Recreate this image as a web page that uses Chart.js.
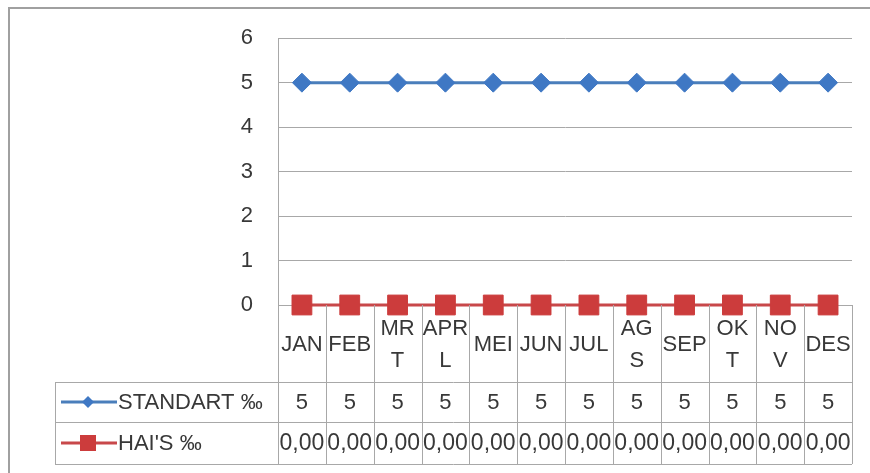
<!DOCTYPE html>
<html>
<head>
<meta charset="utf-8">
<script src="https://cdn.jsdelivr.net/npm/chart.js@4"></script>
<style>
  html, body { margin: 0; padding: 0; background: #fff; }
  #wrap { width: 870px; height: 473px; }
</style>
</head>
<body>
<div id="wrap"><canvas id="myChart" width="870" height="473"></canvas></div>
<script>
// data
const months = [['JAN'], ['FEB'], ['MR', 'T'], ['APR', 'L'], ['MEI'], ['JUN'], ['JUL'], ['AG', 'S'], ['SEP'], ['OK', 'T'], ['NO', 'V'], ['DES']]
const standart = [5, 5, 5, 5, 5, 5, 5, 5, 5, 5, 5, 5]
const hais = [0, 0, 0, 0, 0, 0, 0, 0, 0, 0, 0, 0]
const seriesNames = ['STANDART ‰', "HAI'S ‰"]

const FONT = '"Liberation Sans", Arial, sans-serif'
const TEXT = '#383838'
const GRID = '#a8a8a8'
const BLUE = '#4a7ebb'
const BLUE_PT = '#3f78c4'
const RED = '#c8484a'
const RED_PT = '#cc3c3c'

// tabla de datos debajo del grafico (estilo excel)
const dataTable = {
  id: 'dataTable',
  afterDraw(chart) {
    const ctx = chart.ctx
    const x = chart.scales.x
    const area = chart.chartArea
    const half = (x.getPixelForValue(1) - x.getPixelForValue(0)) / 2
    const tableLeft = 55
    const rowTop = 382, rowMid = 422, rowBot = 464

    ctx.save()
    // borde exterior
    ctx.strokeStyle = '#a0a0a0'
    ctx.lineWidth = 2
    ctx.beginPath()
    ctx.moveTo(9, 473); ctx.lineTo(9, 8); ctx.lineTo(870, 8)
    ctx.stroke()

    ctx.strokeStyle = GRID
    ctx.lineWidth = 1
    ctx.beginPath()
    // verticales de categorias
    for (let i = 0; i <= months.length; i++) {
      const px = Math.round(x.getPixelForValue(i) - half) + 0.5
      ctx.moveTo(px, area.bottom); ctx.lineTo(px, rowBot)
    }
    ;[rowTop, rowMid, rowBot].forEach(y => {
      ctx.moveTo(tableLeft, y + 0.5); ctx.lineTo(area.right, y + 0.5)
    })
    ctx.moveTo(tableLeft + 0.5, rowTop); ctx.lineTo(tableLeft + 0.5, rowBot)
    ctx.stroke()

    ctx.fillStyle = TEXT
    ctx.font = '22px ' + FONT
    ctx.textAlign = 'center'
    ctx.textBaseline = 'middle'
    const headMid = (area.bottom + rowTop) / 2
    months.forEach((m, i) => {
      const cx = x.getPixelForValue(i)
      if (m.length === 1) {
        ctx.fillText(m[0], cx, headMid + 1)
      } else {
        ctx.fillText(m[0], cx, headMid - 15)
        ctx.fillText(m[1], cx, headMid + 17)
      }
    })

    const r1 = (rowTop + rowMid) / 2 + 1
    const r2 = (rowMid + rowBot) / 2 + 1
    standart.forEach((v, i) => {
      ctx.fillText(String(v), x.getPixelForValue(i), r1)
    })
    ctx.font = '23px ' + FONT
    hais.forEach((v, i) => {
      ctx.fillText(v.toFixed(2).replace('.', ','), x.getPixelForValue(i), r2)
    })

    // claves de leyenda
    ctx.font = '22px ' + FONT
    ctx.textAlign = 'left'
    ctx.fillText(seriesNames[0], 118, r1)
    ctx.fillText(seriesNames[1], 118, r2)

    ctx.lineWidth = 3
    ctx.strokeStyle = BLUE
    ctx.beginPath(); ctx.moveTo(61, r1 - 1); ctx.lineTo(117, r1 - 1); ctx.stroke()
    ctx.fillStyle = BLUE_PT
    ctx.beginPath()
    ctx.moveTo(88 - 6, r1 - 1); ctx.lineTo(88, r1 - 7); ctx.lineTo(88 + 6, r1 - 1); ctx.lineTo(88, r1 + 5)
    ctx.closePath(); ctx.fill()

    ctx.strokeStyle = RED
    ctx.beginPath(); ctx.moveTo(61, r2 - 1); ctx.lineTo(117, r2 - 1); ctx.stroke()
    ctx.fillStyle = RED_PT
    ctx.fillRect(88 - 8, r2 - 9, 16, 16)
    ctx.restore()
  }
}

const ctx = document.getElementById('myChart')
const myChart = new Chart(ctx, {
  type: 'line',
  data: {
    labels: months,
    datasets: [{
      label: seriesNames[0],
      data: standart,
      borderColor: BLUE,
      borderWidth: 3,
      pointStyle: 'rectRot',
      pointRadius: 9.5,
      pointBackgroundColor: BLUE_PT,
      pointBorderColor: BLUE_PT,
      pointBorderWidth: 1,
      lineTension: 0,
      clip: false
    }, {
      label: seriesNames[1],
      data: hais,
      borderColor: RED,
      borderWidth: 3,
      pointStyle: 'rect',
      pointRadius: 14,
      pointBackgroundColor: RED_PT,
      pointBorderColor: RED_PT,
      pointBorderWidth: 1,
      lineTension: 0,
      clip: false
    }]
  },
  options: {
    responsive: false,
    animation: false,
    layout: { padding: { left: 0, top: 37, right: 18, bottom: 168 } },
    scales: {
      x: {
        display: false,
        offset: true
      },
      y: {
        min: 0,
        max: 6,
        ticks: {
          stepSize: 1,
          padding: 25,
          color: TEXT,
          font: { family: FONT, size: 22 }
        },
        grid: { color: GRID, drawTicks: false },
        border: { color: GRID },
        afterFit(scale) { scale.width = 278 }
      }
    },
    plugins: {
      legend: { display: false },
      tooltip: { enabled: false }
    }
  },
  plugins: [dataTable]
})
</script>
</body>
</html>
